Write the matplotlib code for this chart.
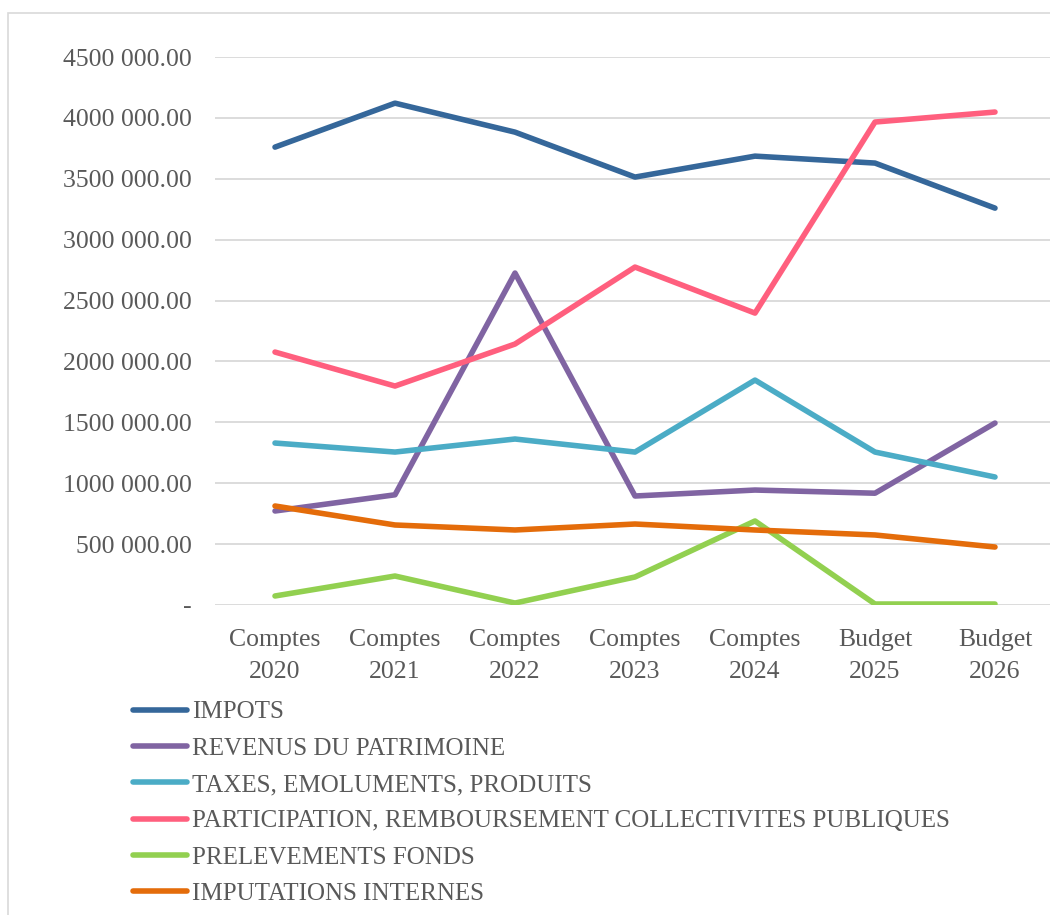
import matplotlib
matplotlib.use('Agg')
import matplotlib.pyplot as plt
from matplotlib.ticker import FuncFormatter
from matplotlib.patches import Rectangle

categories = ['Comptes\n2020', 'Comptes\n2021', 'Comptes\n2022', 'Comptes\n2023',
              'Comptes\n2024', 'Budget\n2025', 'Budget\n2026']

impots = [3760000, 4121000, 3883000, 3514000, 3686000, 3629000, 3259000]
revenus = [772000, 905000, 2726000, 895000, 944000, 918000, 1494000]
taxes = [1330000, 1256000, 1363000, 1256000, 1847000, 1256000, 1051000]
participation = [2077000, 1798000, 2143000, 2775000, 2397000, 3966000, 4048000]
prelevements = [74000, 238000, 16000, 230000, 690000, 8000, 8000]
imputations = [813000, 657000, 616000, 665000, 616000, 575000, 476000]

series = [
    ('IMPOTS', impots, '#35679A'),
    ('REVENUS DU PATRIMOINE', revenus, '#8064A2'),
    ('TAXES, EMOLUMENTS, PRODUITS', taxes, '#4BACC6'),
    ('PARTICIPATION, REMBOURSEMENT COLLECTIVITES PUBLIQUES', participation, '#FF5F7E'),
    ('PRELEVEMENTS FONDS', prelevements, '#92D050'),
    ('IMPUTATIONS INTERNES', imputations, '#E46C0A'),
]

plt.rcParams['font.family'] = ['Liberation Serif', 'DejaVu Serif']
text_color = '#595959'

fig = plt.figure(figsize=(10.5, 9.15), dpi=100)
W, H = 1050, 915

# outer chart border (only left and top visible, rest is cropped)
fig.patches.append(Rectangle((8 / W, -0.5), 1.2, 1.5 - 13 / H, transform=fig.transFigure,
                             fill=False, edgecolor='#D9D9D9', linewidth=1.2))

ax = fig.add_axes([215 / W, 1 - 605 / H, 840 / W, (605 - 57) / H])
x = list(range(len(categories)))
for name, vals, color in series:
    ax.plot(x, vals, color=color, linewidth=4, solid_capstyle='round',
            solid_joinstyle='round', label=name)

ax.set_xlim(-0.5, len(categories) - 0.5)
ax.set_ylim(0, 4500000)
ax.set_yticks(range(0, 4500001, 500000))


def fmt(v, pos):
    if v == 0:
        return '-'
    s = f'{v:,.2f}'.replace(',', ' ')
    # only the last thousands group is separated, like the source
    head, tail = s.split('.')
    parts = head.split(' ')
    if len(parts) > 2:
        head = ''.join(parts[:-1]) + ' ' + parts[-1]
    return head + '.' + tail


ax.yaxis.set_major_formatter(FuncFormatter(fmt))
ax.set_xticks(x)
ax.set_xticklabels(categories, linespacing=1.6)
ax.tick_params(axis='both', length=0, labelsize=18.5, colors=text_color)
ax.tick_params(axis='y', pad=17)
ax.tick_params(axis='x', pad=17)
ax.grid(axis='y', color='#D9D9D9', linewidth=1.3)
ax.set_axisbelow(True)
for sp in ax.spines.values():
    sp.set_visible(False)

fig.legend(loc='upper left', bbox_to_anchor=(133 / W, 1 - 701 / H), frameon=False,
           fontsize=18, handlelength=2.15, handletextpad=0.2, labelspacing=0.55,
           labelcolor=text_color, borderaxespad=0, borderpad=0)

fig.savefig('out.png', dpi=100)
